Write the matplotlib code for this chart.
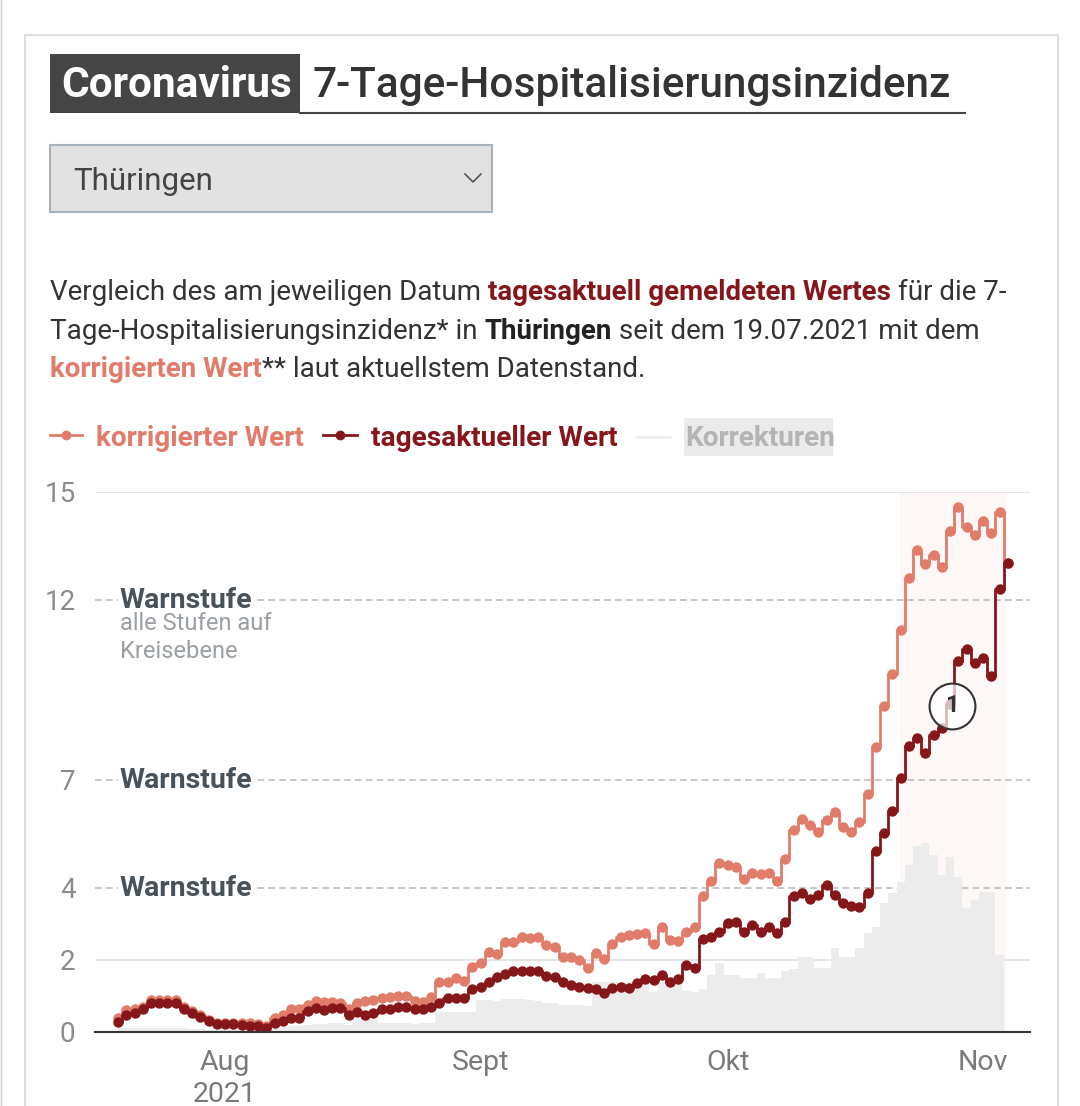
import matplotlib
matplotlib.use("Agg")
import matplotlib.pyplot as plt
import matplotlib.dates as mdates
from matplotlib.patches import Rectangle
from matplotlib.lines import Line2D
import numpy as np
import pandas as pd

plt.rcParams["font.family"] = ["Roboto", "DejaVu Sans"]

# daily values since 19.07.2021
dates = pd.date_range("2021-07-19", "2021-11-04", freq="D")

tagesaktuell = [
    0.29, 0.47, 0.53, 0.64, 0.81, 0.81, 0.81, 0.81, 0.64, 0.53,
    0.43, 0.31, 0.22, 0.22, 0.22, 0.19, 0.18, 0.16, 0.10, 0.26,
    0.30, 0.40, 0.40, 0.58, 0.68, 0.62, 0.68, 0.68, 0.47, 0.56,
    0.47, 0.53, 0.64, 0.65, 0.70, 0.69, 0.65, 0.65, 0.70, 0.80,
    0.94, 0.94, 0.94, 1.19, 1.26, 1.40, 1.52, 1.61, 1.70, 1.70,
    1.70, 1.70, 1.56, 1.54, 1.40, 1.31, 1.26, 1.22, 1.19, 1.07,
    1.22, 1.24, 1.23, 1.37, 1.46, 1.44, 1.58, 1.38, 1.46, 1.86,
    1.77, 2.57, 2.65, 2.79, 3.02, 3.06, 2.79, 2.97, 2.79, 2.93,
    2.74, 3.06, 3.78, 3.85, 3.69, 3.81, 4.08, 3.81, 3.57, 3.50,
    3.46, 3.85, 5.02, 5.54, 6.13, 7.05, 7.95, 8.17, 7.74, 8.26,
    8.45, 9.10, 10.30, 10.63, 10.26, 10.39, 9.90, 12.30, 13.03,
]

korrigiert = [
    0.38, 0.61, 0.64, 0.70, 0.89, 0.89, 0.89, 0.89, 0.70, 0.58,
    0.47, 0.33, 0.24, 0.24, 0.24, 0.24, 0.24, 0.22, 0.16, 0.38,
    0.47, 0.63, 0.65, 0.75, 0.87, 0.82, 0.82, 0.80, 0.65, 0.80,
    0.86, 0.88, 0.95, 0.97, 1.01, 1.00, 0.86, 0.84, 0.97, 1.40,
    1.40, 1.49, 1.43, 1.80, 1.91, 2.23, 2.17, 2.51, 2.51, 2.65,
    2.61, 2.65, 2.42, 2.36, 2.09, 2.09, 2.00, 1.77, 2.19, 2.02,
    2.44, 2.64, 2.69, 2.72, 2.74, 2.44, 2.93, 2.56, 2.54, 2.79,
    2.91, 3.78, 4.20, 4.69, 4.64, 4.57, 4.24, 4.43, 4.39, 4.43,
    4.20, 4.80, 5.61, 5.91, 5.75, 5.56, 5.89, 6.12, 5.70, 5.56,
    5.84, 6.60, 7.93, 9.05, 9.95, 11.18, 12.60, 13.38, 13.00, 13.26,
    12.93, 13.93, 14.59, 14.03, 13.80, 14.20, 13.85, 14.45, 13.03,
]

korrekturen = [
    0.10, 0.10, 0.12, 0.12, 0.12, 0.12, 0.12, 0.10, 0.10, 0.08,
    0.08, 0.06, 0.05, 0.05, 0.05, 0.05, 0.05, 0.05, 0.06, 0.15,
    0.15, 0.18, 0.18, 0.20, 0.22, 0.22, 0.24, 0.24, 0.20, 0.35,
    0.35, 0.35, 0.24, 0.24, 0.24, 0.24, 0.22, 0.24, 0.24, 0.55,
    0.55, 0.55, 0.55, 0.55, 0.89, 0.89, 0.85, 0.93, 0.93, 0.93,
    0.89, 0.86, 0.80, 0.80, 0.75, 0.75, 0.75, 0.72, 1.38, 1.38,
    1.38, 1.38, 1.38, 1.38, 1.38, 1.10, 1.38, 1.38, 1.38, 1.15,
    1.12, 1.20, 1.58, 1.91, 1.58, 1.58, 1.49, 1.49, 1.63, 1.49,
    1.49, 1.70, 1.75, 2.09, 2.09, 1.77, 1.77, 2.32, 2.09, 2.09,
    2.34, 2.74, 2.93, 3.57, 3.85, 4.18, 4.64, 5.17, 5.24, 4.92,
    4.36, 4.87, 4.31, 3.44, 3.67, 3.90, 3.90, 2.14, 0.00,
]

warnstufen = [4, 7, 12]
y_ticks = [0, 2, 4, 7, 12, 15]
month_ticks = pd.to_datetime(["2021-08-01", "2021-09-01", "2021-10-01", "2021-11-01"])
month_labels = ["Aug\n2021", "Sept", "Okt", "Nov"]

LIGHT = "#E17C6A"
DARK = "#85161A"
GRAY_AREA = "#ECECEC"
TEXT = "#333333"

W, H = 1080, 1106
fig = plt.figure(figsize=(W / 100, H / 100), dpi=100)
renderer = fig.canvas.get_renderer()


def fx(x):
    return x / W


def fy(y):
    return 1 - y / H


def txt(x, y, s, **kw):
    kw.setdefault("va", "baseline")
    return fig.text(fx(x), fy(y), s, **kw)


def rich_line(pieces, x, y, size):
    # pieces: (text, color, weight, space_before)
    sp = fig.text(0, 0, "a a", fontsize=size)
    sp2 = fig.text(0, 0, "aa", fontsize=size)
    space = sp.get_window_extent(renderer).width - sp2.get_window_extent(renderer).width
    sp.remove()
    sp2.remove()
    for s, color, weight, gap in pieces:
        if gap:
            x += space
        t = txt(x, y, s, color=color, fontweight=weight, fontsize=size)
        x += t.get_window_extent(renderer).width


# card border
fig.add_artist(Rectangle((fx(25), fy(1120)), fx(1058) - fx(25), fy(35) - fy(1120),
                         transform=fig.transFigure, fill=False, edgecolor="#dedede", lw=1.5))
fig.add_artist(Line2D([fx(1), fx(1)], [0, 1], color="#d0d0d0", lw=1))

# title
fig.add_artist(Rectangle((fx(50), fy(113)), fx(300) - fx(50), fy(54) - fy(113),
                         transform=fig.transFigure, color="#454545", lw=0))
fig.add_artist(Line2D([fx(300), fx(965)], [fy(113), fy(113)], color="#444444", lw=1.5))
txt(61, 97, "Coronavirus", color="white", fontweight="bold", fontsize=30.5)
txt(313, 97, "7-Tage-Hospitalisierungsinzidenz", color=TEXT, fontweight="medium", fontsize=30.5)

# dropdown
fig.add_artist(Rectangle((fx(50), fy(212)), fx(492) - fx(50), fy(145) - fy(212),
                         transform=fig.transFigure, facecolor="#e2e2e2", edgecolor="#a8b2ba", lw=1.5))
txt(73, 190, "Thüringen", color="#444444", fontsize=22.5)
fig.add_artist(Line2D([fx(465), fx(473), fx(481)], [fy(174), fy(182), fy(174)], color="#555555", lw=1.2))

# description
rich_line([("Vergleich des am jeweiligen Datum", TEXT, "normal", False),
           ("tagesaktuell gemeldeten Wertes", DARK, "bold", True),
           ("für die 7-", TEXT, "normal", True)], 50, 300, 20)
rich_line([("Tage-Hospitalisierungsinzidenz* in", TEXT, "normal", False),
           ("Thüringen", "#222222", "bold", True),
           ("seit dem 19.07.2021 mit dem", TEXT, "normal", True)], 50, 339, 20)
rich_line([("korrigierten Wert", LIGHT, "bold", False),
           ("** laut aktuellstem Datenstand.", TEXT, "normal", False)], 50, 377, 20)

# legend
fig.add_artist(Line2D([fx(50), fx(82)], [fy(435), fy(435)], color=LIGHT, lw=2))
fig.add_artist(Line2D([fx(66)], [fy(435)], color=LIGHT, marker="o", ms=6))
txt(96, 446, "korrigierter Wert", color=LIGHT, fontweight="bold", fontsize=20.2)
fig.add_artist(Line2D([fx(323), fx(357)], [fy(435), fy(435)], color=DARK, lw=2))
fig.add_artist(Line2D([fx(340)], [fy(435)], color=DARK, marker="o", ms=6))
txt(371, 446, "tagesaktueller Wert", color=DARK, fontweight="bold", fontsize=20.2)
fig.add_artist(Line2D([fx(637), fx(670)], [fy(437), fy(437)], color="#eeeeee", lw=2))
fig.add_artist(Rectangle((fx(684), fy(456)), fx(833) - fx(684), fy(418) - fy(456),
                         transform=fig.transFigure, color="#ebebeb", lw=0))
txt(685, 446, "Korrekturen", color="#b4b4b4", fontweight="bold", fontsize=20.2)

# chart
ax = fig.add_axes([fx(95), fy(1032), fx(1030) - fx(95), fy(492) - fy(1032)])
x = mdates.date2num(dates)
ax.set_xlim(x[0] - 2.8, x[0] + 110.7)
ax.set_ylim(0, 15)

ax.axvspan(x[0] + 94.9, x[0] + 107.9, color="#fdf7f6", lw=0, zorder=0)
ax.fill_between(x, 0, korrekturen, step="mid", color=GRAY_AREA, lw=0, zorder=1)

for v in [2, 15]:
    ax.axhline(v, color="#e3e3e3", lw=1.3, zorder=0.5)
for v in warnstufen:
    ax.axhline(v, color="#bdbdbd", lw=1.2, ls=(0, (4, 2.5)), zorder=0.5)

ax.plot(x, korrigiert, drawstyle="steps-mid", color=LIGHT, lw=2, marker="o", ms=7.5,
        mew=0, zorder=3)
ax.plot(x, tagesaktuell, drawstyle="steps-mid", color=DARK, lw=2, marker="o", ms=7.5,
        mew=0, zorder=4)

# annotation 1
ax.plot([x[0] + 101.2], [9.06], marker="o", ms=33, mfc=(1, 1, 1, 0.7), mec="#333333",
        mew=1.5, zorder=5)
ax.text(x[0] + 101.2, 9.06, "1", ha="center", va="center", fontsize=17,
        fontweight="bold", color="#333333", zorder=6)

# Warnstufe labels
box = dict(facecolor="white", edgecolor="none", pad=1.5)
for v in warnstufen:
    ax.text(x[0] + 0.2, v, "Warnstufe", color="#48525a", fontweight="bold", fontsize=20.5,
            va="center", ha="left", bbox=box, zorder=2)
ax.text(x[0] + 0.2, 11.35, "alle Stufen auf", color="#9a9fa3", fontsize=17,
        va="center", ha="left", zorder=2)
ax.text(x[0] + 0.2, 10.58, "Kreisebene", color="#9a9fa3", fontsize=17,
        va="center", ha="left", zorder=2)

for side in ["left", "right", "top"]:
    ax.spines[side].set_visible(False)
ax.spines["bottom"].set_color("#333333")
ax.spines["bottom"].set_linewidth(1.5)
ax.spines["bottom"].set_zorder(7)

ax.set_yticks(y_ticks)
ax.set_yticklabels([str(v) for v in y_ticks])
ax.set_xticks(mdates.date2num(month_ticks))
ax.set_xticklabels(month_labels, linespacing=1.25)
ax.tick_params(axis="y", length=0, pad=14, labelsize=20, labelcolor="#8c8c8c")
ax.tick_params(axis="x", length=0, pad=12, labelsize=20.5, labelcolor="#7a7a7a")
ax.patch.set_visible(False)

fig.savefig("out.png", dpi=100)
